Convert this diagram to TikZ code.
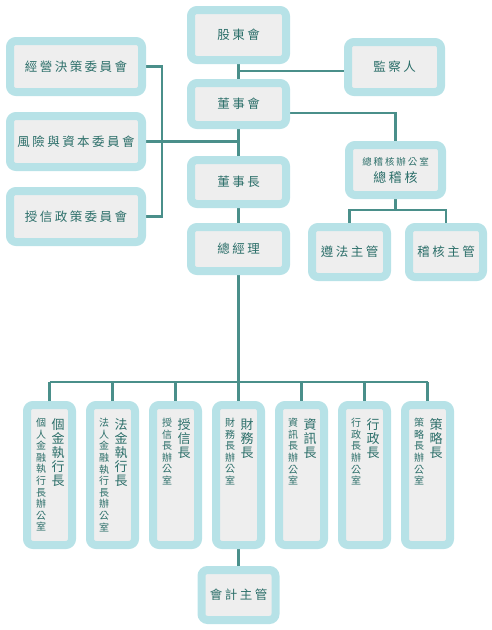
\documentclass[tikz,border=0pt]{standalone}
\usepackage{fontspec}
\newfontfamily\cjk{Noto Sans CJK TC}
\newfontfamily\cjksp[LetterSpace=20]{Noto Sans CJK TC}
\usetikzlibrary{backgrounds}
\definecolor{bc}{HTML}{B7E2E7}
\definecolor{ig}{HTML}{EEEEEE}
\definecolor{tc}{HTML}{2B6E69}
\definecolor{lc}{HTML}{4A8F8A}
\begin{document}
\begin{tikzpicture}[x=1pt,y=-1pt,
  box/.style={draw=bc, line width=8pt, fill=ig, rounded corners=6pt, inner sep=0pt,
    text=tc, font=\cjksp\fontsize{12.5}{14}\selectfont},
  conn/.style={draw=lc, line width=2.5pt},
  bigv/.style={text=tc, font=\cjk\fontsize{13}{14}\selectfont, align=center, inner sep=0pt, anchor=north},
  smallv/.style={text=tc, font=\cjk\fontsize{10}{11.6}\selectfont, align=center, inner sep=0pt, anchor=north},
  vbox/.style={box, minimum width=45pt, minimum height=140pt}]
\useasboundingbox (0,0) rectangle (491,630);

% centre column
\node[box, minimum width=95pt, minimum height=50pt] (sh) at (238.5,35) {股東會};
\node[box, minimum width=95pt, minimum height=42pt] (bd) at (238.5,104) {董事會};
\node[box, minimum width=95pt, minimum height=44pt] (ch) at (238.5,182) {董事長};
\node[box, minimum width=95pt, minimum height=44pt] (gm) at (238.5,249) {總經理};

% right side
\node[box, minimum width=93pt, minimum height=50pt] (sup) at (394.5,67) {監察人};
\node[box, minimum width=93pt, minimum height=50pt] (aud) at (395.5,170) {};
\node[text=tc, font=\cjksp\fontsize{9.5}{11}\selectfont, inner sep=0pt] (audt1) at (395.5,162) {總稽核辦公室};
\node[text=tc, font=\cjksp\fontsize{13}{14}\selectfont, inner sep=0pt] (audt2) at (395.5,177.5) {總稽核};
\node[box, minimum width=75pt, minimum height=50pt] (comp) at (349.5,252) {遵法主管};
\node[box, minimum width=74pt, minimum height=50pt] (ia) at (446,252) {稽核主管};

% committees
\node[box, minimum width=132pt, minimum height=51pt] (c1) at (76,66.5) {經營決策委員會};
\node[box, minimum width=132pt, minimum height=51pt] (c2) at (76,141.5) {風險與資本委員會};
\node[box, minimum width=132pt, minimum height=51pt] (c3) at (76,216.5) {授信政策委員會};

% bottom row
\node[vbox] (p1) at (49.5,475) {};
\node[vbox] (p2) at (112.5,475) {};
\node[vbox] (p3) at (175.5,475) {};
\node[vbox] (p4) at (238.5,475) {};
\node[vbox] (p5) at (301.5,475) {};
\node[vbox] (p6) at (364.5,475) {};
\node[vbox] (p7) at (427.5,475) {};

\node[bigv] (t1) at (58,418) {個\\金\\執\\行\\長};
\node[smallv] (s1) at (41,418) {個\\人\\金\\融\\執\\行\\長\\辦\\公\\室};
\node[bigv] (t2) at (121,418) {法\\金\\執\\行\\長};
\node[smallv] (s2) at (104,418) {法\\人\\金\\融\\執\\行\\長\\辦\\公\\室};
\node[bigv] (t3) at (184,418) {授\\信\\長};
\node[smallv] (s3) at (167,418) {授\\信\\長\\辦\\公\\室};
\node[bigv] (t4) at (247,418) {財\\務\\長};
\node[smallv] (s4) at (230,418) {財\\務\\長\\辦\\公\\室};
\node[bigv] (t5) at (310,418) {資\\訊\\長};
\node[smallv] (s5) at (293,418) {資\\訊\\長\\辦\\公\\室};
\node[bigv] (t6) at (373,418) {行\\政\\長};
\node[smallv] (s6) at (356,418) {行\\政\\長\\辦\\公\\室};
\node[bigv] (t7) at (436,418) {策\\略\\長};
\node[smallv] (s7) at (419,418) {策\\略\\長\\辦\\公\\室};

\node[box, minimum width=74pt, minimum height=50pt] (acc) at (238.5,595) {會計主管};

\coordinate (j1) at (238.5,71);
\coordinate (cv) at (162,0);
\coordinate (j3) at (395.5,210);
\coordinate (hb) at (238.5,382);

\begin{scope}[on background layer]
\draw[conn] (sh) -- (gm);
\draw[conn] (gm.south) -- (hb);
\draw[conn] (j1) -- (j1 -| sup.west);
\draw[conn] ([yshift=-9pt]bd.east) -| (aud.north);
\draw[conn] (aud.south) -- (j3);
\draw[conn] (comp.north) |- (j3) -| (ia.north);
\draw[conn] (c1.east) -| (cv |- c3.east) -- (c3.east);
\draw[conn] (c2.east) -- (c2.east -| sh.south);
\draw[conn] (p1.north |- hb) -- (p7.north |- hb);
\foreach \p in {p1,p2,p3,p4,p5,p6,p7} \draw[conn] (\p.north) -- (\p.north |- hb);
\draw[conn] (p4.south) -- (acc.north);
\end{scope}
\end{tikzpicture}
\end{document}
